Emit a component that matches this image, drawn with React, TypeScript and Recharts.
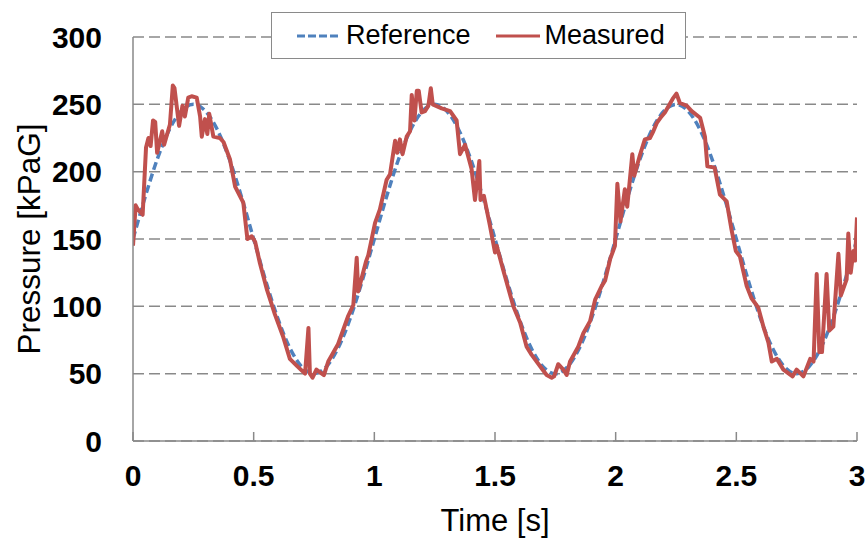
import React from 'react';
import { LineChart, Line, XAxis, YAxis, CartesianGrid, Legend, Label } from 'recharts';

const seriesNames = ['Reference', 'Measured'];
const xTicks = [0, 0.5, 1, 1.5, 2, 2.5, 3];
const yTicks = [0, 50, 100, 150, 200, 250, 300];

const refTime = [
  0, 0.05, 0.1, 0.15, 0.2, 0.25, 0.3, 0.35, 0.4, 0.45, 0.5, 0.55, 0.6, 0.65, 0.7, 0.75, 0.8, 0.85, 0.9, 0.95,
  1, 1.05, 1.1, 1.15, 1.2, 1.25, 1.3, 1.35, 1.4, 1.45, 1.5, 1.55, 1.6, 1.65, 1.7, 1.75, 1.8, 1.85, 1.9, 1.95,
  2, 2.05, 2.1, 2.15, 2.2, 2.25, 2.3, 2.35, 2.4, 2.45, 2.5, 2.55, 2.6, 2.65, 2.7, 2.75, 2.8, 2.85, 2.9, 2.95,
  3,
];
const refValues = [
  150, 181, 209, 231, 245, 250, 245, 231, 209, 181, 150, 119, 91, 69, 55, 50, 55, 69, 91, 119,
  150, 181, 209, 231, 245, 250, 245, 231, 209, 181, 150, 119, 91, 69, 55, 50, 55, 69, 91, 119,
  150, 181, 209, 231, 245, 250, 245, 231, 209, 181, 150, 119, 91, 69, 55, 50, 55, 69, 91, 119,
  150,
];

const measTime = [
  0, 0.011, 0.02, 0.04, 0.054, 0.064, 0.073, 0.083, 0.092, 0.1, 0.121, 0.129, 0.153, 0.165, 0.172, 0.191,
  0.205, 0.215, 0.229, 0.243, 0.264, 0.278, 0.285, 0.298, 0.308, 0.316, 0.333, 0.36, 0.375, 0.402, 0.423,
  0.457, 0.474, 0.492, 0.506, 0.526, 0.554, 0.588, 0.623, 0.65, 0.678, 0.713, 0.727, 0.733, 0.744, 0.76,
  0.791, 0.809, 0.85, 0.892, 0.913, 0.927, 0.933, 0.965, 0.975,
  1.003, 1.023, 1.051, 1.065, 1.086, 1.095, 1.106, 1.117, 1.134, 1.148, 1.155, 1.166, 1.176, 1.184, 1.196,
  1.21, 1.224, 1.234, 1.242, 1.279, 1.314, 1.341, 1.355, 1.376, 1.403, 1.417, 1.435, 1.44, 1.454, 1.479,
  1.5, 1.507, 1.534, 1.576, 1.604, 1.631, 1.652, 1.693, 1.714, 1.735, 1.745, 1.762, 1.783, 1.797, 1.811,
  1.845, 1.866, 1.894, 1.915, 1.942, 1.956, 1.977, 1.997,
  2.007, 2.02, 2.038, 2.048, 2.069, 2.077, 2.1, 2.121, 2.142, 2.156, 2.17, 2.19, 2.204, 2.236, 2.252, 2.266,
  2.294, 2.315, 2.35, 2.37, 2.38, 2.41, 2.432, 2.46, 2.48, 2.498, 2.515, 2.543, 2.563, 2.591, 2.612, 2.633,
  2.647, 2.668, 2.695, 2.733, 2.75, 2.778, 2.806, 2.82, 2.833, 2.844, 2.855, 2.874, 2.885, 2.902, 2.923,
  2.933, 2.957, 2.964, 2.974, 2.985, 2.992, 3.0,
];
const measValues = [
  145, 175, 172, 168, 218, 225, 219, 238, 237, 214, 230, 220, 235, 264, 262, 234,
  249, 241, 255, 256, 255, 241, 226, 239, 228, 243, 226, 225, 222, 209, 189,
  177, 150, 152, 148, 132, 113, 94, 77, 61, 56, 50, 84, 50, 47, 53,
  49, 59, 72, 93, 101, 136, 111, 133, 138,
  162, 172, 194, 198, 223, 214, 224, 213, 226, 230, 257, 238, 260, 260, 244,
  245, 249, 262, 250, 247, 245, 238, 213, 220, 202, 179, 208, 179, 182, 160,
  140, 145, 127, 100, 88, 70, 64, 54, 49, 47, 48, 57, 53, 49, 59,
  70, 80, 89, 105, 115, 119, 135, 145,
  191, 163, 187, 174, 213, 197, 212, 224, 225, 230, 236, 241, 244, 254, 258, 251,
  249, 245, 240, 226, 204, 203, 183, 178, 157, 141, 137, 115, 106, 99, 85, 73,
  59, 61, 53, 48, 53, 48, 61, 59, 124, 66, 66, 124, 82, 85, 139,
  108, 120, 154, 125, 141, 134, 166,
];

const refData = refTime.map((t, i) => ({ t, v: refValues[i] }));
const measData = measTime.map((t, i) => ({ t, v: measValues[i] }));

const BLUE = '#4F81BD';
const RED = '#C0504D';
const GRAY = '#898989';
const FONT = '"Liberation Sans", Arial, sans-serif';

const renderLegend = () => (
  <div
    style={{
      boxSizing: 'border-box',
      width: 415,
      height: 47,
      border: '1.5px solid #8a8a8a',
      background: '#fff',
      display: 'flex',
      alignItems: 'center',
      fontFamily: FONT,
      fontSize: 27,
      color: '#000',
      whiteSpace: 'nowrap',
    }}
  >
    <svg width={44} height={6} style={{ marginLeft: 25 }}>
      <line x1={0} y1={3} x2={44} y2={3} stroke={BLUE} strokeWidth={3} strokeDasharray="8 3" />
    </svg>
    <span style={{ marginLeft: 5 }}>{seriesNames[0]}</span>
    <svg width={44} height={6} style={{ marginLeft: 25 }}>
      <line x1={0} y1={3} x2={44} y2={3} stroke={RED} strokeWidth={3} />
    </svg>
    <span style={{ marginLeft: 5 }}>{seriesNames[1]}</span>
  </div>
);

export default function App() {
  return (
    <div style={{ position: 'absolute', left: 0, top: 0, width: 866, height: 538, background: '#fff' }}>
      <LineChart width={866} height={538} margin={{ top: 37, right: 9, bottom: 0, left: 0 }}>
        <CartesianGrid vertical={false} stroke={GRAY} strokeWidth={1.5} strokeDasharray="11 5" />
        <XAxis
          type="number"
          dataKey="t"
          domain={[0, 3]}
          ticks={xTicks}
          height={97}
          axisLine={{ stroke: GRAY, strokeWidth: 1.5 }}
          tickLine={{ stroke: GRAY, strokeWidth: 1.5 }}
          tickSize={-9}
          tickMargin={33}
          tick={{ fill: '#000', fontSize: 30, fontWeight: 'bold', fontFamily: FONT }}
          allowDataOverflow
        >
          <Label
            value="Time [s]"
            position="center"
            dy={30}
            style={{ fill: '#000', fontSize: 31, fontFamily: FONT }}
          />
        </XAxis>
        <YAxis
          type="number"
          domain={[0, 300]}
          ticks={yTicks}
          width={133}
          axisLine={{ stroke: GRAY, strokeWidth: 1.5 }}
          tickLine={false}
          tickSize={0}
          tickMargin={31}
          tick={{ fill: '#000', fontSize: 30, fontWeight: 'bold', fontFamily: FONT }}
          allowDataOverflow
        >
          <Label
            value="Pressure [kPaG]"
            position="center"
            angle={-90}
            dx={-38}
            style={{ fill: '#000', fontSize: 31.5, fontFamily: FONT, textAnchor: 'middle' }}
          />
        </YAxis>
        <Legend
          layout="horizontal"
          verticalAlign="middle"
          align="center"
          content={renderLegend}
          wrapperStyle={{ left: 271, top: 12, width: 415, height: 47 }}
        />
        <Line
          data={refData}
          dataKey="v"
          name={seriesNames[0]}
          type="monotone"
          stroke={BLUE}
          strokeWidth={3.5}
          strokeDasharray="8 4"
          dot={false}
          isAnimationActive={false}
        />
        <Line
          data={measData}
          dataKey="v"
          name={seriesNames[1]}
          type="linear"
          stroke={RED}
          strokeWidth={4}
          strokeLinejoin="round"
          dot={false}
          isAnimationActive={false}
        />
      </LineChart>
    </div>
  );
}
